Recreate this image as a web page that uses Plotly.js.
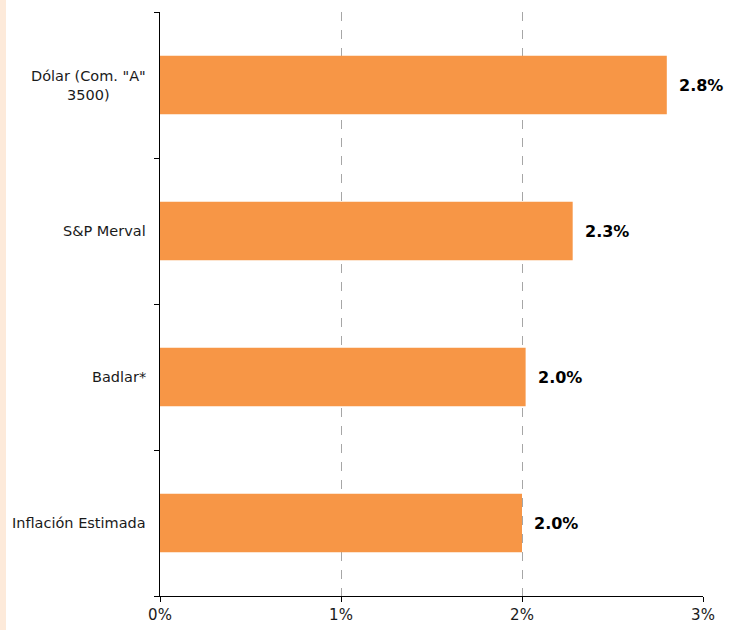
<!DOCTYPE html>
<html>
<head>
<meta charset="utf-8">
<script src="https://cdn.plot.ly/plotly-3.0.1.min.js"></script>
<style>
html,body{margin:0;padding:0;background:#fff;}
#chart{width:740px;height:630px;}
</style>
</head>
<body>
<div id="chart"></div>
<script>
// Data (top to bottom as shown)
const categories = ['Dólar (Com. "A"<br>3500)', 'S&P Merval', 'Badlar*', 'Inflación Estimada'];
const values = [2.8, 2.28, 2.02, 2.0];
const valueLabels = ['2.8%', '2.3%', '2.0%', '2.0%'];
const xTickVals = [0, 1, 2, 3];
const xTickText = ['0%', '1%', '2%', '3%'];
const titleText = '(Var. en %, último mes)';

const W = 740, H = 630;
const mL = 160, mR = 37, mT = 12, mB = 34;
const plotW = W - mL - mR, plotH = H - mT - mB;

const font = '"DejaVu Sans", Verdana, sans-serif';

const trace = {
  type: 'bar',
  orientation: 'h',
  y: categories,
  x: values,
  marker: {color: '#F79646', line: {width: 0}},
  width: 0.4,
  hoverinfo: 'none'
};

const annotations = [];
categories.forEach((c, i) => {
  annotations.push({
    x: values[i], y: c, xref: 'x', yref: 'y',
    text: '<b>' + valueLabels[i] + '</b>',
    showarrow: false, xanchor: 'left', yanchor: 'middle', xshift: 10,
    font: {family: font, size: 16, color: '#000'}
  });
  annotations.push({
    x: 0, y: c, xref: 'paper', yref: 'y',
    text: c, showarrow: false, xanchor: 'right', yanchor: 'middle', xshift: -12,
    align: 'center',
    font: {family: font, size: 14.5, color: '#1a1a1a'}
  });
});
annotations.push({
  x: (335 - mL) / plotW, y: 1, xref: 'paper', yref: 'paper',
  text: titleText, showarrow: false, xanchor: 'center', yanchor: 'bottom', yshift: 9,
  font: {family: font, size: 14, color: '#000'}
});

const layout = {
  width: W, height: H,
  margin: {l: mL, r: mR, t: mT, b: mB, pad: 0},
  paper_bgcolor: '#fff', plot_bgcolor: '#fff',
  showlegend: false,
  bargap: 0.6,
  xaxis: {
    range: [0, 3], tickvals: xTickVals, ticktext: xTickText,
    showgrid: true, gridcolor: '#a6a6a6', griddash: 'dash', gridwidth: 1,
    zeroline: false,
    showline: true, linecolor: '#000', linewidth: 1,
    ticks: 'outside', ticklen: 5, tickcolor: '#000',
    tickfont: {family: font, size: 15, color: '#1a1a1a'},
    fixedrange: true
  },
  yaxis: {
    type: 'category', categoryorder: 'array', categoryarray: categories.slice().reverse(),
    range: [-0.5, 3.5],
    showticklabels: false, showgrid: false, zeroline: false,
    showline: true, linecolor: '#000', linewidth: 1,
    ticks: 'outside', ticklen: 5, tickcolor: '#000', tickson: 'boundaries',
    fixedrange: true
  },
  annotations: annotations,
  shapes: [{
    type: 'rect', xref: 'paper', yref: 'paper',
    x0: -mL / plotW, x1: (6 - mL) / plotW,
    y0: -mB / plotH, y1: 1 + mT / plotH,
    fillcolor: '#FDEADA', line: {width: 0}, layer: 'below'
  }]
};

Plotly.newPlot('chart', [trace], layout, {displayModeBar: false, staticPlot: true});
</script>
</body>
</html>
